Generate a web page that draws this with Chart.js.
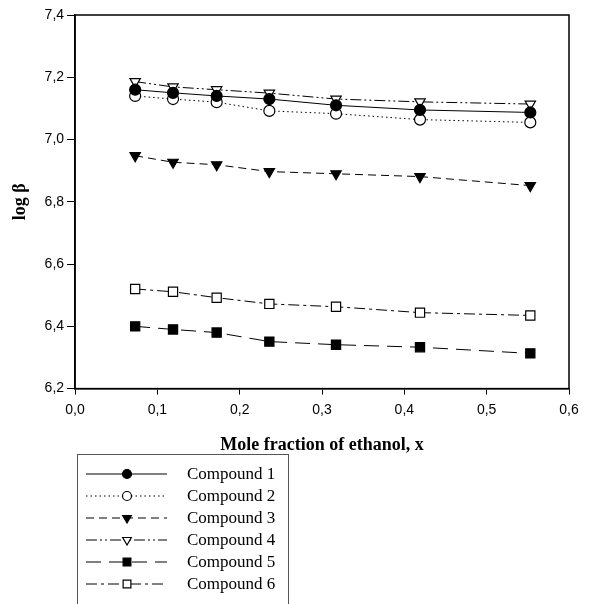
<!DOCTYPE html>
<html lang="en">
<head>
  <meta charset="UTF-8">
  <title>log β vs mole fraction of ethanol</title>
  <script src="https://cdn.jsdelivr.net/npm/chart.js"></script>
  <style>
    html, body { margin: 0; padding: 0; background: #fff; }
    #wrap { width: 607px; height: 604px; }
  </style>
</head>
<body>
  <div id="wrap"><canvas id="chart" width="607" height="604"></canvas></div>

  <script>
    // mole fraction of ethanol
    const xValues = [0.073, 0.119, 0.172, 0.236, 0.317, 0.419, 0.553];

    const names = ["Compound 1", "Compound 2", "Compound 3", "Compound 4", "Compound 5", "Compound 6"];

    const compound1 = [7.16, 7.15, 7.14, 7.13, 7.11, 7.095, 7.087];
    const compound2 = [7.14, 7.13, 7.12, 7.092, 7.083, 7.064, 7.055];
    const compound3 = [6.948, 6.927, 6.919, 6.897, 6.89, 6.881, 6.852];
    const compound4 = [7.186, 7.169, 7.16, 7.149, 7.13, 7.121, 7.114];
    const compound5 = [6.40, 6.39, 6.38, 6.351, 6.341, 6.333, 6.313];
    const compound6 = [6.52, 6.511, 6.492, 6.472, 6.463, 6.444, 6.435];

    const series = [compound1, compound2, compound3, compound4, compound5, compound6];

    // marker / line look for each compound
    const looks = [
      { point: "circle",   rot: 0,   fill: "#000", r: 5.5, dash: [] },
      { point: "circle",   rot: 0,   fill: "#fff", r: 5.5, dash: [1.5, 3] },
      { point: "triangle", rot: 180, fill: "#000", r: 6,   dash: [8, 5] },
      { point: "triangle", rot: 180, fill: "#fff", r: 6,   dash: [11, 3, 2, 3, 2, 3] },
      { point: "rect",     rot: 0,   fill: "#000", r: 6.5, dash: [15, 8] },
      { point: "rect",     rot: 0,   fill: "#fff", r: 6.5, dash: [11, 4, 3, 4] }
    ];

    const comma = v => Number(v).toFixed(1).replace(".", ",");

    const datasets = series.map((vals, i) => ({
      label: names[i],
      data: vals.map((y, k) => ({ x: xValues[k], y: y })),
      borderColor: "#000",
      borderWidth: 1,
      borderDash: looks[i].dash,
      backgroundColor: looks[i].fill,
      pointStyle: looks[i].point,
      pointRotation: looks[i].rot,
      pointRadius: looks[i].r,
      pointBorderColor: "#000",
      pointBackgroundColor: looks[i].fill,
      pointBorderWidth: 1.2,
      tension: 0
    }));

    // box round the plot area
    const frame = {
      id: "frame",
      afterDraw(chart) {
        const a = chart.chartArea, ctx = chart.ctx;
        ctx.save();
        ctx.strokeStyle = "#000";
        ctx.lineWidth = 1.5;
        ctx.strokeRect(a.left, a.top, a.right - a.left, a.bottom - a.top);
        ctx.restore();
      }
    };

    // legend box under the x title
    const boxLegend = {
      id: "boxLegend",
      afterDraw(chart) {
        const ctx = chart.ctx;
        ctx.save();
        ctx.strokeStyle = "#555";
        ctx.lineWidth = 1;
        ctx.strokeRect(77.5, 454.5, 211, 160);
        ctx.font = "17px 'Liberation Serif'";
        ctx.textBaseline = "middle";
        chart.data.datasets.forEach((ds, i) => {
          const y = 474 + i * 22;
          ctx.strokeStyle = "#000";
          ctx.lineWidth = 1;
          ctx.setLineDash(ds.borderDash);
          ctx.beginPath();
          ctx.moveTo(86, y);
          ctx.lineTo(167, y);
          ctx.stroke();
          ctx.setLineDash([]);
          ctx.fillStyle = ds.pointBackgroundColor;
          ctx.strokeStyle = "#000";
          ctx.lineWidth = 1.2;
          Chart.helpers.drawPoint(ctx, {
            pointStyle: ds.pointStyle,
            rotation: ds.pointRotation,
            radius: ds.pointRadius - 1,
            borderWidth: 1.2
          }, 127, y);
          ctx.fillStyle = "#000";
          ctx.fillText(ds.label, 187, y + 1);
        });
        ctx.restore();
      }
    };

    new Chart(document.getElementById("chart"), {
      type: "line",
      data: { datasets: datasets },
      options: {
        responsive: false,
        animation: false,
        layout: { padding: { left: 10, right: 38, top: 15, bottom: 148 } },
        plugins: {
          legend: { display: false },
          tooltip: { enabled: false }
        },
        scales: {
          x: {
            type: "linear",
            min: 0,
            max: 0.6,
            ticks: {
              stepSize: 0.1,
              color: "#000",
              font: { family: "'Liberation Sans'", size: 14 },
              padding: 7,
              callback: comma
            },
            grid: { drawOnChartArea: false, tickLength: 6, color: "#000" },
            border: { color: "#000", width: 1.5 },
            title: {
              display: true,
              text: "Mole fraction of ethanol, x",
              color: "#000",
              font: { family: "'Liberation Serif'", size: 18, weight: "bold" },
              padding: { top: 9, bottom: 0 }
            }
          },
          y: {
            min: 6.2,
            max: 7.4,
            ticks: {
              stepSize: 0.2,
              color: "#000",
              font: { family: "'Liberation Sans'", size: 14 },
              padding: 3,
              callback: comma
            },
            grid: { drawOnChartArea: false, tickLength: 8, color: "#000" },
            border: { color: "#000", width: 1.5 },
            title: {
              display: true,
              text: "log β",
              color: "#000",
              font: { family: "'Liberation Serif'", size: 18, weight: "bold" },
              padding: { top: 0, bottom: 10 }
            }
          }
        }
      },
      plugins: [frame, boxLegend]
    });
  </script>
</body>
</html>
